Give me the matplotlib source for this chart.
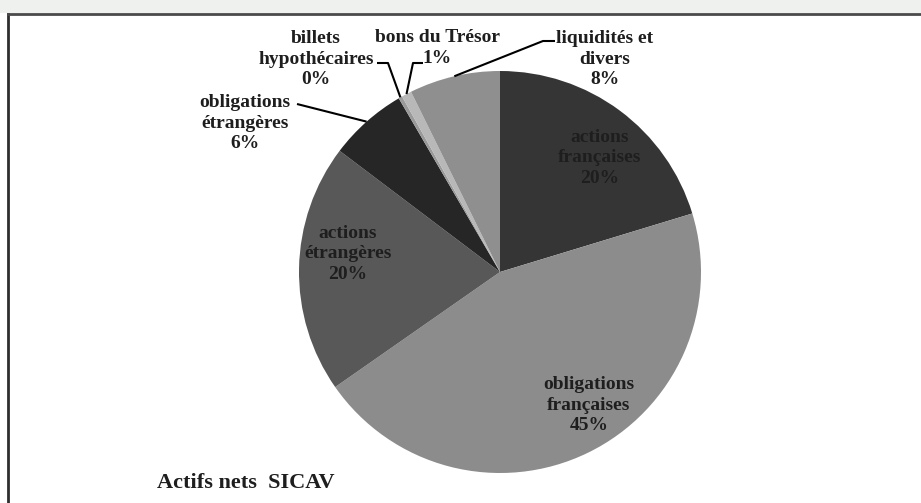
import numpy as np
import matplotlib
matplotlib.use("Agg")
import matplotlib.pyplot as plt
from matplotlib.lines import Line2D
from matplotlib.patches import Rectangle

# ---- data ----
categories = ["actions\nfrançaises", "obligations\nfrançaises", "actions\nétrangères",
              "obligations\nétrangères", "billets\nhypothécaires", "bons du Trésor",
              "liquidités et\ndivers"]
values = [20.3, 45.0, 20.0, 6.3, 0.3, 0.8, 7.3]
pct_labels = ["20%", "45%", "20%", "6%", "0%", "1%", "8%"]
colors = ["#353535", "#8c8c8c", "#585858", "#262626", "#9a9a9a", "#b8b8b8", "#8f8f8f"]
title = "Actifs nets  SICAV"

W, H = 921, 503
fig = plt.figure(figsize=(W / 100, H / 100), dpi=100)
fig.patch.set_facecolor("white")

# top grey strip and frame
fig.add_artist(Rectangle((0, 1 - 13 / H), 1, 13 / H, transform=fig.transFigure,
                         facecolor="#eff1ef", edgecolor="none"))
fig.add_artist(Line2D([8 / W, 8 / W], [0, 1 - 14 / H], transform=fig.transFigure,
                      color="#2e2e2e", lw=2))
fig.add_artist(Line2D([8 / W, 1], [1 - 14 / H, 1 - 14 / H], transform=fig.transFigure,
                      color="#4a4a4a", lw=2))

cx, cy, R = 500, 272, 201
ax = fig.add_axes([(cx - R) / W, (H - cy - R) / H, 2 * R / W, 2 * R / H])

wedges, _ = ax.pie(values, colors=colors, startangle=90, counterclock=False,
                   radius=1, wedgeprops=dict(edgecolor="none"))
ax.set_xlim(-1, 1)
ax.set_ylim(-1, 1)
ax.set_aspect("auto")
ax.axis("off")


def p2d(px, py):
    return ((px - cx) / R, (cy - py) / R)


font = dict(family=["Liberation Serif", "DejaVu Serif"], fontweight="bold",
            fontsize=14, color="#1e1e1e", ha="center", va="center", linespacing=1.3)

# inside labels
inside_pos = {0: (600, 158), 1: (589, 405), 2: (348, 254)}
for i, (px, py) in inside_pos.items():
    x, y = p2d(px, py)
    ax.text(x, y, categories[i] + "\n" + pct_labels[i], **font)

# outside labels with leaders
total = sum(values)
cum = np.cumsum([0] + values)


def mid_point(i):
    frac = (cum[i] + values[i] / 2) / total
    ang = np.deg2rad(90 - 360 * frac)
    return np.cos(ang), np.sin(ang)


outside = {
    3: dict(text=(245, 123), leader=[(297, 104)]),
    4: dict(text=(316, 59), leader=[(377, 63), (388, 63)]),
    5: dict(text=(437, 48), leader=[(423, 63), (413, 63)]),
    6: dict(text=(605, 59), leader=[(555, 41), (543, 41)]),
}
for i, d in outside.items():
    x, y = p2d(*d["text"])
    ax.text(x, y, categories[i] + "\n" + pct_labels[i], clip_on=False, **font)
    pts = [p2d(*p) for p in d["leader"]] + [mid_point(i)]
    xs, ys = zip(*pts)
    ax.plot(xs, ys, color="black", lw=1.5, clip_on=False, solid_capstyle="butt")

fig.text(157 / W, 1 - 483 / H, title, family=["Liberation Serif", "DejaVu Serif"],
         fontweight="bold", fontsize=16, color="#1e1e1e", ha="left", va="center")

fig.savefig("out.png", dpi=100)
